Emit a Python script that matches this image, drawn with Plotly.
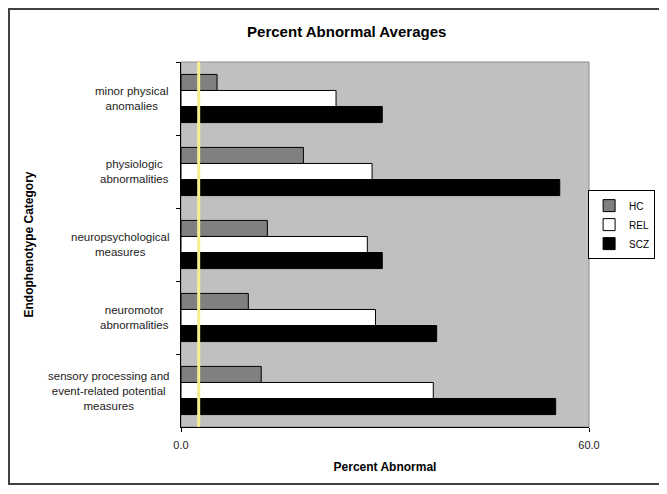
import plotly.graph_objects as go

categories = [
    "minor physical<br>anomalies",
    "physiologic<br>abnormalities",
    "neuropsychological<br>measures",
    "neuromotor<br>abnormalities",
    "sensory processing and<br>event-related potential<br>measures",
]
hc = [5.3, 18.0, 12.7, 9.9, 11.8]
rel = [22.8, 28.1, 27.4, 28.6, 37.1]
scz = [29.6, 55.7, 29.6, 37.6, 55.1]
series = [("HC", hc, "#808080"), ("REL", rel, "#ffffff"), ("SCZ", scz, "#000000")]
marker_line = 2.6
x_ticks = [0, 60]

fig = go.Figure()
for name, vals, col in series:
    fig.add_trace(go.Bar(
        y=categories, x=vals, name=name, orientation="h",
        marker=dict(color=col, line=dict(color="#000000", width=1)),
    ))

# category labels, centred like the original
for c in categories:
    fig.add_annotation(x=-0.025, y=c, xref="paper", yref="y", text=c,
                       showarrow=False, xanchor="right", align="center",
                       font=dict(size=11.5, color="#222222"))

fig.add_annotation(x=-0.375, y=0.5, xref="paper", yref="paper",
                   text="<b>Endophenotype Category</b>", textangle=-90,
                   showarrow=False, xanchor="center", yanchor="middle",
                   font=dict(size=12, color="#000000"))

# plot area border and outer chart border
fig.add_shape(type="rect", xref="paper", yref="paper", x0=0, x1=1, y0=0, y1=1,
              line=dict(color="#8c8c8c", width=1), layer="below")
fig.add_shape(type="rect", xref="paper", yref="paper", x0=-0.4216, x1=1.1765,
              y0=-0.156, y1=1.145, line=dict(color="#404040", width=2))
fig.add_vline(x=marker_line, line=dict(color="#f8ee8c", width=3))

# page body adds an 8px margin, so the figure is smaller to fit the window
fig.update_layout(
    width=659, height=478,
    margin=dict(l=173, r=78, t=54, b=59, autoexpand=False),
    paper_bgcolor="#ffffff", plot_bgcolor="#c0c0c0",
    font=dict(family="Arial, Liberation Sans, sans-serif", color="#000000"),
    title=dict(text="<b>Percent Abnormal Averages</b>", x=0.514, xref="container",
               y=0.950, yref="container", xanchor="center", yanchor="middle",
               font=dict(size=15, color="#000000")),
    barmode="group", bargap=0.34, bargroupgap=0,
    showlegend=True,
    legend=dict(x=1.162, y=0.649, xanchor="right", yanchor="top",
                bgcolor="#ffffff", bordercolor="#000000", borderwidth=1,
                traceorder="normal", font=dict(size=10),
                itemwidth=30, tracegroupgap=0),
    xaxis=dict(range=[0, 60], tickvals=x_ticks, tickformat=".1f",
               ticks="outside", ticklen=4, tickcolor="#000000",
               ticklabelstandoff=4,
               showline=True, linecolor="#000000", linewidth=1,
               showgrid=False, zeroline=False,
               tickfont=dict(size=11, color="#222222"),
               title=dict(text="<b>Percent Abnormal</b>", standoff=12,
                          font=dict(size=12, color="#000000"))),
    yaxis=dict(autorange="reversed", showticklabels=False,
               ticks="outside", ticklen=4, tickcolor="#000000",
               tickson="boundaries",
               showline=True, linecolor="#000000", linewidth=1,
               showgrid=False, zeroline=False),
)

fig.write_html("out.html")
